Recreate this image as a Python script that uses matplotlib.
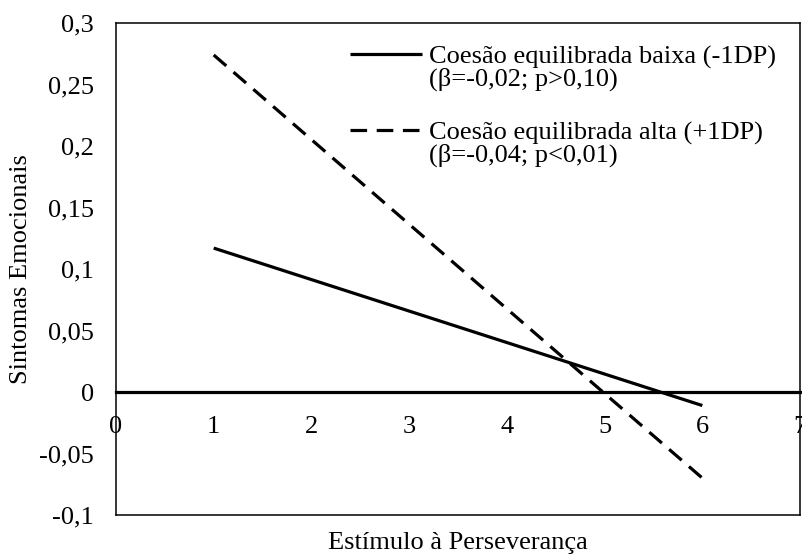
import matplotlib
matplotlib.use("Agg")
import matplotlib.pyplot as plt

plt.rcParams['font.family'] = ['Liberation Serif', 'DejaVu Serif']

# Simple slopes: emotional symptoms vs. encouragement of perseverance
x_vals = [1, 6]
low_cohesion = [0.117, -0.011]
high_cohesion = [0.274, -0.070]

x_ticks = [0, 1, 2, 3, 4, 5, 6, 7]
y_ticks = [-0.1, -0.05, 0, 0.05, 0.1, 0.15, 0.2, 0.25, 0.3]
y_tick_labels = ['-0,1', '-0,05', '0', '0,05', '0,1', '0,15', '0,2', '0,25', '0,3']

label_low = 'Coesão equilibrada baixa (-1DP)\n(β=-0,02; p>0,10)'
label_high = 'Coesão equilibrada alta (+1DP)\n(β=-0,04; p<0,01)'

fs = 19

fig = plt.figure(figsize=(8.02, 5.57), dpi=100)
ax = fig.add_axes([0.1446, 0.0754, 0.853, 0.8833])

ax.plot(x_vals, low_cohesion, color='black', lw=2.3, solid_capstyle='butt',
        label=label_low)
ax.plot(x_vals, high_cohesion, color='black', lw=2.3, linestyle=(0, (5.2, 3.0)),
        dash_capstyle='butt', label=label_high)

ax.set_xlim(0, 7)
ax.set_ylim(-0.1, 0.3)

for s in ax.spines.values():
    s.set_linewidth(1.1)

ax.set_yticks(y_ticks)
ax.set_yticklabels(y_tick_labels, fontsize=fs)
ax.tick_params(axis='y', length=0, pad=16)

# x axis drawn along y = 0
ax.set_xticks([])
zero_pos = (0 - (-0.1)) / 0.4
sec = ax.secondary_xaxis(zero_pos)
sec.spines['bottom'].set_linewidth(2.3)
sec.set_xticks(x_ticks)
sec.set_xticklabels([str(t) for t in x_ticks], fontsize=fs)
sec.tick_params(axis='x', length=0, pad=17)

ax.set_xlabel('Estímulo à Perseverança', fontsize=fs, labelpad=12)
ax.set_ylabel('Sintomas Emocionais', fontsize=fs, labelpad=5)

leg = ax.legend(loc='upper left', bbox_to_anchor=(0.342, 0.954), frameon=False,
                fontsize=fs, handlelength=2.73, handletextpad=0.25,
                labelspacing=1.15, borderaxespad=0, borderpad=0)
for t in leg.get_texts():
    t.set_linespacing(0.95)
# align each legend key with the first line of its two-line label
for h in leg.legend_handles:
    h.set_ydata([v + 10 for v in h.get_ydata()])

fig.savefig('out.png', dpi=100)
